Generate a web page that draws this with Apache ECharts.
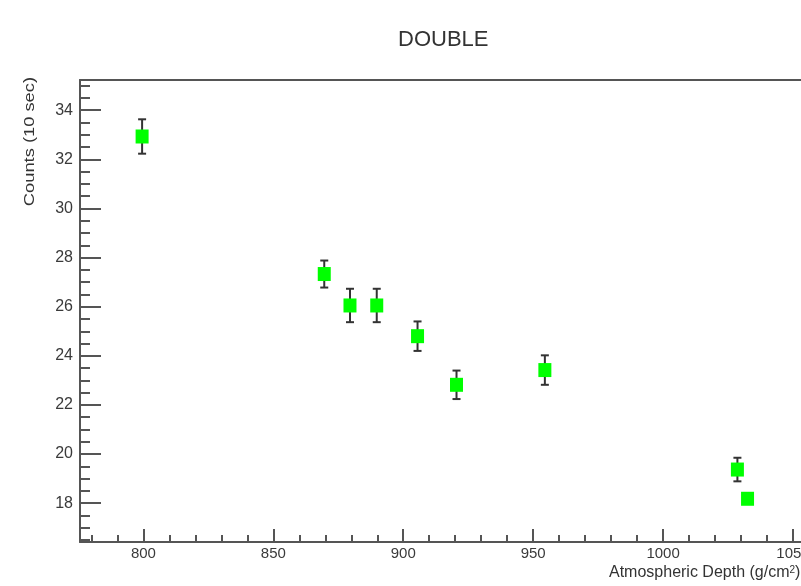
<!DOCTYPE html>
<html>
<head>
<meta charset="utf-8">
<script src="https://cdn.jsdelivr.net/npm/echarts@6/dist/echarts.min.js"></script>
<style>
  html, body { margin: 0; padding: 0; background: #fff; }
  #main { width: 801px; height: 586px; }
</style>
</head>
<body>
<div id="main"></div>
<script>
// data
var depth  = [799.5, 869.6, 879.5, 889.8, 905.5, 920.5, 954.5, 1028.6, 1032.5];
var counts = [32.93, 27.33, 26.05, 26.05, 24.8, 22.82, 23.42, 19.37, 18.18];
var errs   = [0.7, 0.55, 0.68, 0.68, 0.6, 0.58, 0.6, 0.48, 0];

var xMin = 775.6, xMax = 1060;
var yMin = 16.42, yMax = 35.23;

var axisColor = '#555';
var font = 'Liberation Sans';

var points = depth.map(function (d, i) { return [d, counts[i]]; });
var bars = depth.map(function (d, i) { return [d, counts[i], errs[i]]; });

var myChart = echarts.init(document.getElementById('main'));

var option = {
    animation: false,
    backgroundColor: '#fff',
    title: {
        text: 'DOUBLE',
        left: 398,
        top: 29,
        padding: 0,
        textStyle: { fontFamily: font, fontSize: 22, fontWeight: 'normal', color: '#333' }
    },
    grid: {
        left: 80, top: 80, width: 739, height: 462,
        outerBoundsMode: 'none',
        containLabel: false
    },
    xAxis: [
        {
            type: 'value',
            min: xMin, max: xMax,
            splitNumber: 6, minInterval: 50, maxInterval: 50,
            axisLine: { lineStyle: { color: axisColor, width: 2 } },
            axisTick: { inside: true, length: 13, lineStyle: { color: axisColor, width: 2 } },
            minorTick: { show: true, splitNumber: 5, length: 7, lineStyle: { color: axisColor, width: 2 } },
            splitLine: { show: false },
            axisLabel: {
                color: '#3a3a3a', fontFamily: font, fontSize: 15, margin: 4,
                showMinLabel: false, showMaxLabel: false,
                hideOverlap: false,
                formatter: function (v) { return String(v); }
            }
        },
        {
            // top frame line
            type: 'value', position: 'top',
            min: xMin, max: xMax,
            axisLine: { show: true, lineStyle: { color: axisColor, width: 2 } },
            axisTick: { show: false },
            axisLabel: { show: false },
            splitLine: { show: false }
        }
    ],
    yAxis: {
        type: 'value',
        min: yMin, max: yMax,
        splitNumber: 9, minInterval: 2, maxInterval: 2,
        axisLine: { lineStyle: { color: axisColor, width: 2 } },
        axisTick: { inside: true, length: 21, lineStyle: { color: axisColor, width: 2 } },
        minorTick: { show: true, splitNumber: 4, length: 10, lineStyle: { color: axisColor, width: 2 } },
        splitLine: { show: false },
        axisLabel: {
            color: '#3a3a3a', fontFamily: font, fontSize: 16, margin: 7,
            showMinLabel: false, showMaxLabel: false
        }
    },
    graphic: [
        {
            type: 'text', x: 30, y: 77, rotation: Math.PI / 2, scaleX: 1.22,
            style: {
                text: 'Counts (10 sec)', fill: '#333',
                font: '15px "Liberation Sans"',
                align: 'right', verticalAlign: 'middle'
            }
        },
        {
            type: 'text', x: 609, y: 573,
            style: {
                text: 'Atmospheric Depth (g/cm{s|2})', fill: '#333',
                font: '16px "Liberation Sans"',
                align: 'left', verticalAlign: 'middle',
                rich: { s: { fontSize: 10, fontFamily: font, verticalAlign: 'top', fill: '#333' } }
            }
        }
    ],
    series: [
        {
            type: 'custom',
            name: 'err',
            data: bars,
            z: 2,
            renderItem: function (params, api) {
                var x = api.value(0), y = api.value(1), e = api.value(2);
                if (!e) return;
                var top = api.coord([x, y + e]);
                var bot = api.coord([x, y - e]);
                var w = 4;
                var st = { stroke: '#333', lineWidth: 2 };
                return {
                    type: 'group',
                    children: [
                        { type: 'line', shape: { x1: top[0], y1: top[1], x2: bot[0], y2: bot[1] }, style: st },
                        { type: 'line', shape: { x1: top[0] - w, y1: top[1], x2: top[0] + w, y2: top[1] }, style: st },
                        { type: 'line', shape: { x1: bot[0] - w, y1: bot[1], x2: bot[0] + w, y2: bot[1] }, style: st }
                    ]
                };
            }
        },
        {
            type: 'scatter',
            name: 'DOUBLE',
            data: points,
            z: 3,
            symbol: 'rect',
            symbolSize: [13, 14],
            itemStyle: { color: '#00ff00', opacity: 1 }
        }
    ]
};

myChart.setOption(option);
</script>
</body>
</html>
